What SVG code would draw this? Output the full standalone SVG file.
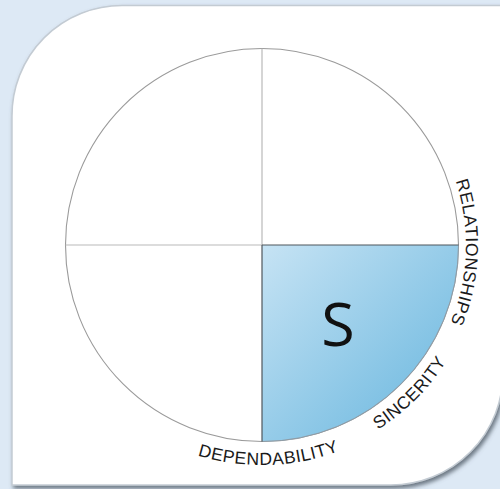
<svg xmlns="http://www.w3.org/2000/svg" width="500" height="489" viewBox="0 0 500 489">
  <style>
    .lbl { font-family: "Liberation Sans", Arial, sans-serif; font-size: 17.5px; letter-spacing: 0.5px; fill: #1a1a1a; }
    .big { font-family: "Open Sans", "Liberation Sans", sans-serif; font-size: 61px; fill: #111; }
    .axis { stroke: #b9b9b9; stroke-width: 1.2; fill: none; }
    .axisdark { stroke: #4f565c; stroke-width: 1.2; fill: none; }
  </style>
  <defs>
    <linearGradient id="qfill" gradientUnits="userSpaceOnUse" x1="262" y1="245" x2="445" y2="425">
      <stop offset="0" stop-color="#c6e3f4"/>
      <stop offset="1" stop-color="#6cb8df"/>
    </linearGradient>
    <filter id="shadow" x="-5%" y="-5%" width="115%" height="115%">
      <feDropShadow dx="2" dy="3" stdDeviation="2.2" flood-color="#4f5a66" flood-opacity="0.8"/>
    </filter>
    <path id="pDep" d="M57.7,326.7 A220,220 0 0 0 471.0,313.7"/>
    <path id="pSin" d="M169.9,442.6 A218,218 0 0 0 459.6,152.9"/>
    <path id="pRel" d="M338.7,56.0 A204,204 0 0 1 324.7,439.1"/>
  </defs>

  <rect x="0" y="0" width="500" height="489" fill="#dde9f5"/>

  <g id="card">
    <path d="M12,116 A110,110 0 0 1 122,5.5 L503,5.5 L503,372 A112,112 0 0 1 391,485 L12,485 Z" fill="#ffffff" stroke="#c3cbd3" stroke-width="1.5" filter="url(#shadow)"/>
  </g>

  <g id="circle">
    <circle cx="262" cy="245" r="196.5" fill="#ffffff" stroke="#9a9a9a" stroke-width="1.1"/>
  </g>

  <g id="quadrant-s">
    <path d="M262,245 L458.5,245 A196.5,196.5 0 0 1 262,441.5 Z" fill="url(#qfill)" stroke="none"/>
    <path d="M262,441.5 A196.5,196.5 0 0 0 458.5,245" fill="none" stroke="#8f9aa3" stroke-width="1"/>
    <text class="big" x="338" y="346" text-anchor="middle">S</text>
  </g>

  <g id="connectors">
    <line class="axis" x1="262" y1="48.5" x2="262" y2="245"/>
    <line class="axis" x1="65.5" y1="245" x2="262" y2="245"/>
    <line class="axisdark" x1="262" y1="245" x2="458.5" y2="245"/>
    <line class="axisdark" x1="262" y1="245" x2="262" y2="441.5"/>
  </g>

  <g id="label-relationships">
    <text class="lbl"><textPath href="#pRel" startOffset="50%" text-anchor="middle">RELATIONSHIPS</textPath></text>
  </g>
  <g id="label-sincerity">
    <text class="lbl"><textPath href="#pSin" startOffset="50%" text-anchor="middle">SINCERITY</textPath></text>
  </g>
  <g id="label-dependability">
    <text class="lbl"><textPath href="#pDep" startOffset="50%" text-anchor="middle">DEPENDABILITY</textPath></text>
  </g>
</svg>
